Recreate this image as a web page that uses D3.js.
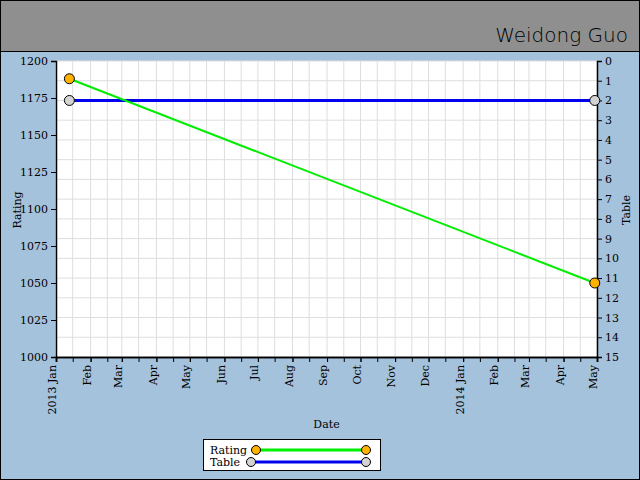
<!DOCTYPE html>
<html><head><meta charset="utf-8">
<script src="https://cdn.jsdelivr.net/npm/d3@7"></script>
<style>body{margin:0}svg{display:block}text{font-family:"DejaVu Serif",serif;font-size:11px}</style>
</head><body><svg id="c" width="640" height="480"></svg>
<script>
const title = "Weidong Guo";
const dates = ["2013-01-13", "2014-04-29"];
const rating = [1188, 1050];
const table = [2, 2];
const seriesNames = ["Rating", "Table"];

const svg = d3.select("#c");
const parse = d3.timeParse("%Y-%m-%d");
const L=56,R=597,T=61,B=357;
svg.append("rect").attr("width",640).attr("height",480).attr("fill","#a5c2dc");
svg.append("rect").attr("x",0.5).attr("y",0.5).attr("width",639).attr("height",51).attr("fill","#8f8f8f").attr("stroke","#000");
svg.append("rect").attr("x",0.5).attr("y",0.5).attr("width",639).attr("height",479).attr("fill","none").attr("stroke","#000");
svg.append("text").attr("x",628).attr("y",42).attr("text-anchor","end").style("font-family","'DejaVu Sans'").style("font-size","20px").style("font-weight","300").text(title);

const x = d3.scaleTime().domain([new Date(2013,0,1), new Date(2014,4,1)]).range([L,R]);
const yL = d3.scaleLinear().domain([1000,1200]).range([B,T]);
const yR = d3.scaleLinear().domain([15,0]).range([B,T]);
svg.append("rect").attr("x",L).attr("y",T).attr("width",R-L).attr("height",B-T).attr("fill","#fff");

const minor = [];
d3.timeMonths(new Date(2013,0,1), new Date(2014,4,2)).forEach(m=>{minor.push(m); minor.push(new Date(m.getFullYear(),m.getMonth(),16));});
const minorT = minor.filter(d=>d<=x.domain()[1]);
const g = svg.append("g").attr("stroke","#dedede");
minorT.forEach(d=>g.append("line").attr("x1",x(d)).attr("x2",x(d)).attr("y1",T).attr("y2",B));
d3.range(0,16).forEach(v=>g.append("line").attr("x1",L).attr("x2",R).attr("y1",yR(v)).attr("y2",yR(v)));

svg.append("g").attr("transform",`translate(0,${B})`).call(d3.axisBottom(x).tickValues(minorT).tickSize(5).tickFormat(""));
const months = d3.timeMonths(new Date(2013,0,1), new Date(2014,4,2));
svg.append("g").attr("transform",`translate(0,${B})`).call(d3.axisBottom(x).tickValues(months).tickSize(5)
  .tickFormat(d=>d.getMonth()===0? d3.timeFormat("%Y %b")(d) : d3.timeFormat("%b")(d)))
  .call(s=>s.selectAll("text").attr("transform","rotate(-90)").attr("text-anchor","end").attr("x",-8).attr("y",-4).attr("dy","0.35em").style("font-size","11px"));
svg.append("g").attr("transform",`translate(${L},0)`).call(d3.axisLeft(yL).tickValues(d3.range(1000,1201,25)).tickSize(5).tickFormat(d3.format("d")));
svg.append("g").attr("transform",`translate(${R},0)`).call(d3.axisRight(yR).tickValues(d3.range(0,16)).tickSize(5));
svg.selectAll(".domain").attr("stroke","#000").attr("stroke-width",1.5);
svg.selectAll(".tick text").attr("fill","#000").style("font-family","'DejaVu Serif',serif");

svg.append("text").attr("x",(L+R)/2).attr("y",428).attr("text-anchor","middle").text("Date");
svg.append("text").attr("transform","translate(21,210) rotate(-90)").attr("text-anchor","middle").text("Rating");
svg.append("text").attr("transform","translate(630,210) rotate(-90)").attr("text-anchor","middle").text("Table");

const pts = dates.map(parse);
const lineL = d3.line().x((d,i)=>x(pts[i])).y(d=>yL(d));
const lineR = d3.line().x((d,i)=>x(pts[i])).y(d=>yR(d));
svg.append("path").attr("d",lineR(table)).attr("stroke","#0000ee").attr("stroke-width",3).attr("fill","none");
svg.append("path").attr("d",lineL(rating)).attr("stroke","#00ee00").attr("stroke-width",2).attr("fill","none");
table.forEach((v,i)=>svg.append("circle").attr("cx",x(pts[i])).attr("cy",yR(v)).attr("r",5).attr("fill","#d3d3d3").attr("stroke","#000"));
rating.forEach((v,i)=>svg.append("circle").attr("cx",x(pts[i])).attr("cy",yL(v)).attr("r",5).attr("fill","#ffb300").attr("stroke","#000"));

const lg = svg.append("g");
lg.append("rect").attr("x",203.5).attr("y",439.5).attr("width",177).attr("height",31).attr("fill","#fff").attr("stroke","#000");
lg.append("text").attr("x",210).attr("y",454).text(seriesNames[0]);
lg.append("text").attr("x",210).attr("y",466).text(seriesNames[1]);
lg.append("line").attr("x1",256).attr("x2",366).attr("y1",450).attr("y2",450).attr("stroke","#00ee00").attr("stroke-width",3);
lg.append("line").attr("x1",251).attr("x2",366).attr("y1",462).attr("y2",462).attr("stroke","#0000ee").attr("stroke-width",3);
[256,366].forEach(cx=>lg.append("circle").attr("cx",cx).attr("cy",450).attr("r",4.5).attr("fill","#ffb300").attr("stroke","#000"));
[251,366].forEach(cx=>lg.append("circle").attr("cx",cx).attr("cy",462).attr("r",4.5).attr("fill","#d3d3d3").attr("stroke","#000"));
</script></body></html>
